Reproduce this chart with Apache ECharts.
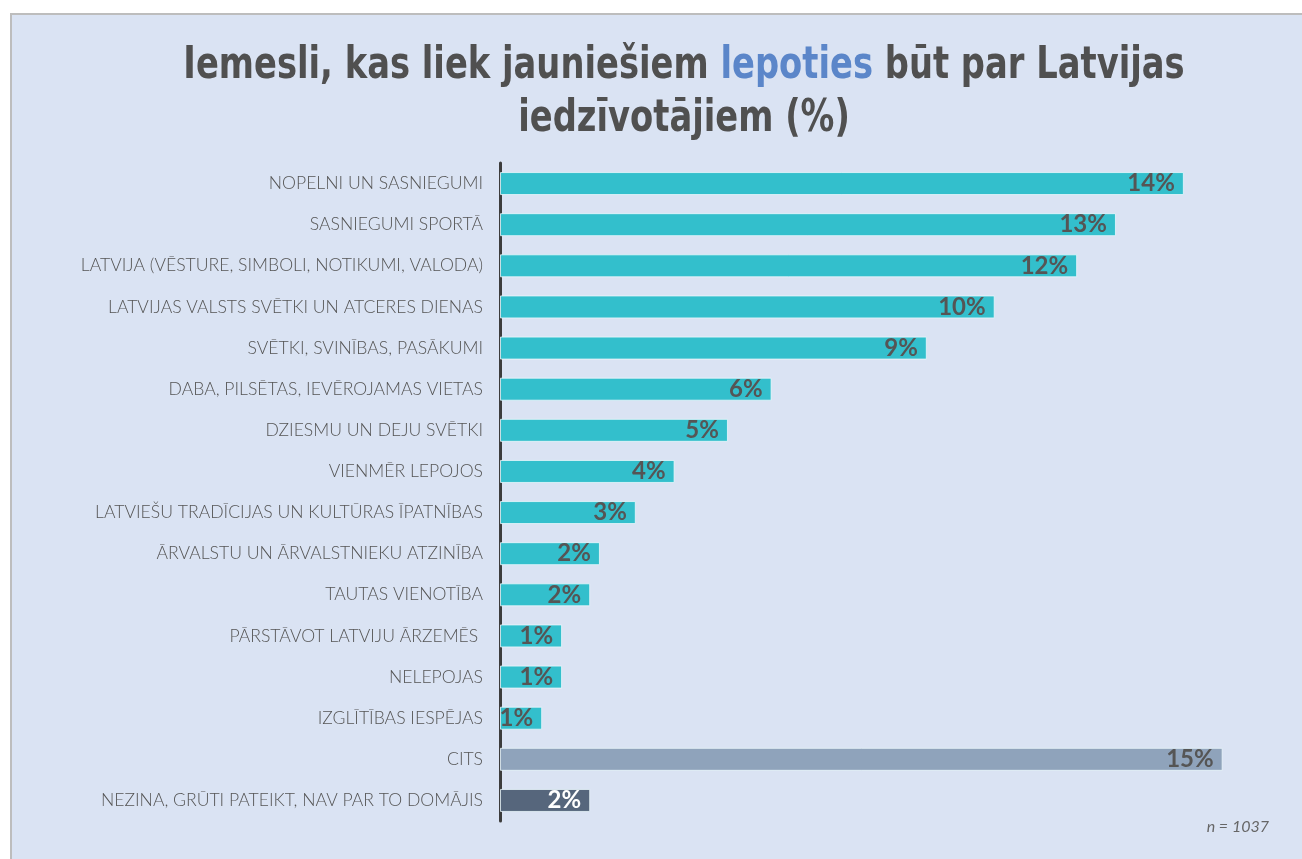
<!DOCTYPE html>
<html>
<head>
<meta charset="utf-8">
<script src="https://cdn.jsdelivr.net/npm/echarts@6/dist/echarts.min.js"></script>
<style>
  html, body { margin: 0; padding: 0; background: #ffffff; }
  #panel {
    position: absolute; left: 10px; top: 13px; width: 1292px; height: 846px;
    background: #dae3f3; border-top: 2px solid #bdbdbd; border-left: 2px solid #bdbdbd;
    box-sizing: border-box;
  }
  #chart { position: absolute; left: 0; top: 0; width: 1302px; height: 859px; }
</style>
</head>
<body>
<div id="panel"></div>
<div id="chart"></div>
<script>
// kategorijas (no augšas uz leju)
const categories = [
  'NOPELNI UN SASNIEGUMI',
  'SASNIEGUMI SPORTĀ',
  'LATVIJA (VĒSTURE, SIMBOLI, NOTIKUMI, VALODA)',
  'LATVIJAS VALSTS SVĒTKI UN ATCERES DIENAS',
  'SVĒTKI, SVINĪBAS, PASĀKUMI',
  'DABA, PILSĒTAS, IEVĒROJAMAS VIETAS',
  'DZIESMU UN DEJU SVĒTKI',
  'VIENMĒR LEPOJOS',
  'LATVIEŠU TRADĪCIJAS UN KULTŪRAS ĪPATNĪBAS',
  'ĀRVALSTU UN ĀRVALSTNIEKU ATZINĪBA',
  'TAUTAS VIENOTĪBA',
  'PĀRSTĀVOT LATVIJU ĀRZEMĒS ',
  'NELEPOJAS',
  'IZGLĪTĪBAS IESPĒJAS',
  'CITS',
  'NEZINA, GRŪTI PATEIKT, NAV PAR TO DOMĀJIS'
]
// vērtības (%) nolasītas no attēla
const values = [14.1, 12.7, 11.9, 10.2, 8.8, 5.6, 4.7, 3.6, 2.8, 2.06, 1.86, 1.28, 1.28, 0.87, 14.9, 1.86]
// stabiņu grupas: 0 = parastie, 1 = cits, 2 = nezina
const groups = [0, 0, 0, 0, 0, 0, 0, 0, 0, 0, 0, 0, 0, 0, 1, 2]
const groupColors = ['#33bfcc', '#8fa3bb', '#56667c']
const labelColors = ['#555555', '#555555', '#ffffff']

const titleFont = '"DejaVu Sans Condensed", "DejaVu Sans", sans-serif'

let myChart = echarts.init(document.getElementById('chart'))

myChart.setOption({
  animation: false,
  grid: { left: 500, top: 163, width: 776, height: 658, containLabel: false },
  xAxis: {
    type: 'value', min: 0, max: 16,
    show: false
  },
  yAxis: {
    type: 'category',
    inverse: true,
    data: categories,
    axisLine: { show: true, lineStyle: { color: '#3c3c3c', width: 3 } },
    axisTick: { show: false },
    axisLabel: { margin: 17, color: '#555555', fontFamily: 'Lato, sans-serif', fontWeight: 300, fontSize: 17.6 }
  },
  series: [{
    type: 'bar',
    barWidth: 23,
    data: values.map((v, i) => ({
      value: v,
      itemStyle: { color: groupColors[groups[i]] },
      label: { color: labelColors[groups[i]] }
    })),
    itemStyle: { borderColor: 'rgba(235,248,252,0.8)', borderWidth: 1 },
    label: {
      show: true,
      position: 'insideRight',
      distance: 9,
      formatter: p => Math.round(p.value) + '%',
      fontFamily: 'Lato, sans-serif',
      fontWeight: 'bold',
      fontSize: 24
    }
  }],
  graphic: [{
    // virsraksts, horizontāli saspiests kā oriģinālā
    type: 'text',
    x: 684,
    y: 40,
    scaleX: 0.853,
    style: {
      text: '{a|Iemesli, kas liek jauniešiem }{b|lepoties}{a| būt par Latvijas}\n{a|iedzīvotājiem (%)}',
      align: 'center',
      rich: {
        a: { fontFamily: titleFont, fontWeight: 'bold', fontSize: 44, fill: '#505050', lineHeight: 53 },
        b: { fontFamily: titleFont, fontWeight: 'bold', fontSize: 44, fill: '#5b86c9', lineHeight: 53 }
      }
    }
  }, {
    type: 'text',
    right: 33,
    top: 819,
    style: { text: 'n = 1037', fontFamily: 'Lato, sans-serif', fontStyle: 'italic', fontSize: 16, fill: '#666666' }
  }]
})
</script>
</body>
</html>
